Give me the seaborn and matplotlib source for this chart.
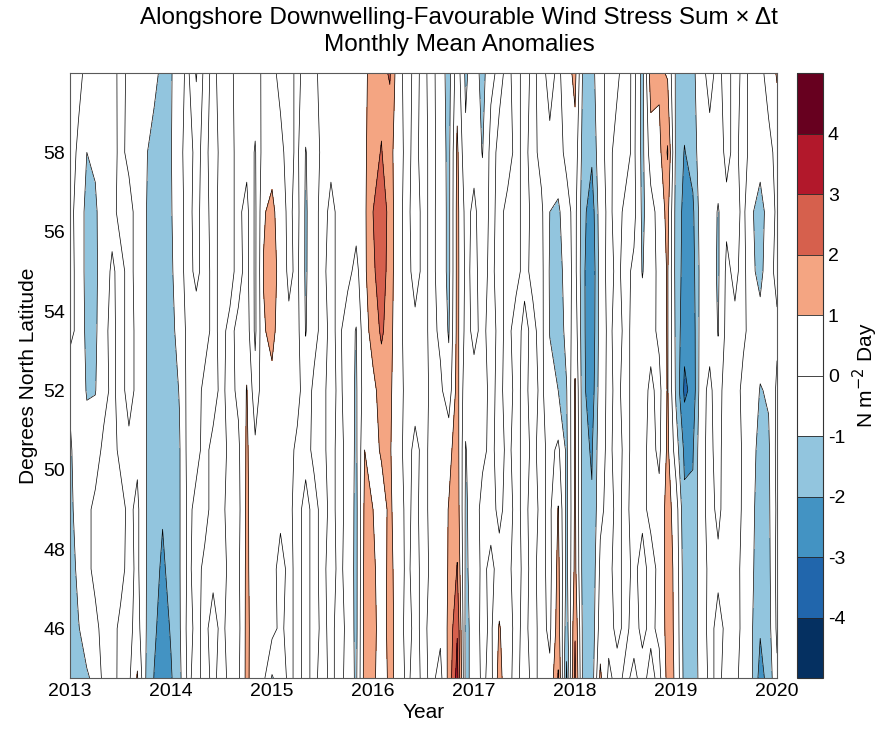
import numpy as np
import seaborn as sns
import matplotlib.pyplot as plt

# latitude rows (south -> north) and monthly anomalies, one row per month
lats = [44.75, 46, 47.5, 49, 50.5, 52, 53.5, 55, 56.5, 58, 60]

anom_2013 = [
    [-1.5, -1.5, -1.4, -1.3, -1.2, -0.8, 0.3, 0.4, 0.3, 0.5, 0.2],
    [-1.4, -1.05, -0.8, -0.5, -0.3, -0.2, -0.3, -0.4, -0.4, -0.2, 0.3],
    [-1.1, -0.6, -0.3, -0.2, -0.5, -1.1, -1.25, -1.3, -1.3, -1.0, -0.3],
    [-0.8, -0.3, 0.3, 0.2, -0.4, -1.05, -1.2, -1.25, -1.2, -0.8, -0.2],
    [0.3, 0.4, 0.5, 0.4, 0.2, -0.3, -0.2, -0.3, -0.3, -0.4, -0.3],
    [0.4, 0.3, 0.2, 0.2, 0.3, 0.2, 0.2, 0.1, -0.2, -0.3, -0.4],
    [-0.3, -0.2, 0.3, 0.3, -0.2, -0.3, -0.3, -0.2, 0.2, 0.2, 0.3],
    [-0.2, -0.3, -0.3, -0.2, -0.2, 0.3, 0.3, 0.2, 0.3, -0.2, -0.2],
    [1.1, 0.4, 0.2, 0.2, -0.2, -0.2, -0.2, -0.2, -0.3, -0.3, -0.2],
    [-1.0, -0.95, -0.95, -0.95, -0.95, -0.95, -0.95, -0.95, -0.95, -0.9, -0.4],
    [-2.05, -1.8, -1.6, -1.5, -1.5, -1.5, -1.5, -1.5, -1.5, -1.4, -0.7],
    [-2.7, -2.5, -2.2, -1.9, -1.7, -1.6, -1.6, -1.6, -1.6, -1.5, -1.3],
]
anom_2014 = [
    [-2.1, -1.9, -1.6, -1.5, -1.5, -1.5, -1.4, -1.2, -1.1, -1.05, -1.1],
    [-1.3, -1.15, -1.1, -1.1, -1.1, -0.95, -0.5, -0.3, -0.2, -0.2, -0.3],
    [0.2, 0.3, 0.2, 0.2, 0.3, 0.3, 0.2, 0.3, 0.2, 0.3, 0.2],
    [-0.3, -0.2, -0.3, -0.2, 0.2, 0.3, 0.4, -0.2, -0.2, -0.2, -1.1],
    [0.3, 0.2, 0.2, -0.3, -0.2, -0.2, 0.3, 0.3, 0.3, 0.2, 0.3],
    [-0.2, -0.3, 0.2, 0.3, 0.2, -0.3, -0.2, -0.2, -0.3, -0.3, -0.2],
    [0.3, 0.2, 0.3, 0.2, 0.3, 0.2, 0.2, 0.2, 0.3, 0.2, 0.3],
    [-0.2, -0.3, -0.2, -0.3, -0.2, -0.3, -0.2, 0.3, 0.2, 0.3, 0.2],
    [-0.2, -0.3, -0.2, -0.3, -0.2, 0.2, 0.2, -0.3, -0.2, -0.3, -0.3],
    [1.3, 1.3, 1.25, 1.2, 1.15, 1.05, 0.5, 0.3, 0.3, -0.3, -0.2],
    [0.2, 0.3, 0.2, 0.3, 0.2, -0.6, -1.2, -1.2, -1.2, -1.1, -0.4],
    [0.2, 0.3, 0.3, 0.3, 0.4, 0.6, 0.9, 1.05, 0.9, 0.5, 0.2],
]
anom_2015 = [
    [-1.1, 0.3, 0.3, 0.4, 0.5, 0.7, 1.3, 1.5, 1.3, 0.5, 0.2],
    [-0.5, -0.2, -0.3, 0.2, 0.3, 0.3, 0.5, 0.6, 0.4, 0.2, -0.2],
    [0.2, 0.3, 0.2, 0.2, 0.3, 0.2, 0.2, -0.2, -0.2, -0.3, -0.3],
    [-0.2, -0.3, -0.2, -0.3, -0.2, 0.3, 0.3, 0.2, 0.3, 0.2, 0.2],
    [0.2, 0.3, 0.2, 0.3, -0.3, -0.5, -1.05, -1.15, -1.15, -1.05, -0.3],
    [-0.2, -0.3, -0.2, -0.3, 0.2, 0.2, -0.3, -0.2, -0.3, -0.4, -0.2],
    [0.3, 0.2, 0.2, 0.3, 0.2, 0.2, 0.3, 0.2, 0.3, 0.2, 0.3],
    [-0.2, -0.2, -0.3, -0.2, -0.3, -0.3, -0.2, -0.3, -0.2, 0.2, 0.2],
    [0.3, 0.3, 0.2, 0.2, 0.3, 0.2, 0.2, 0.3, 0.2, 0.3, 0.2],
    [-0.3, -0.2, -0.3, -0.2, -0.3, -0.4, -0.6, 0.3, 0.4, 0.5, 0.6],
    [-1.2, -1.3, -1.3, -1.3, -1.2, -1.15, -1.05, -0.3, 0.4, 0.6, 0.7],
    [1.4, 1.4, 1.3, 1.2, 1.0, 0.6, 0.7, 0.8, 0.8, 0.8, 0.85],
]
anom_2016 = [
    [1.3, 1.4, 1.2, 1.0, 0.7, 0.8, 1.3, 1.8, 2.0, 1.7, 1.3],
    [0.3, 0.4, 0.5, 0.6, 1.1, 1.3, 2.2, 2.6, 2.7, 2.05, 1.7],
    [1.3, 1.4, 1.3, 1.2, 1.1, 1.2, 1.4, 1.5, 1.6, 1.4, 2.1],
    [0.6, 0.5, 0.5, 0.4, 0.3, 0.3, 0.2, 0.3, 0.2, 0.3, 0.3],
    [-0.2, -0.3, -0.2, -0.2, -0.3, -0.2, -0.2, -0.3, -0.2, -0.2, -0.3],
    [0.3, 0.2, 0.3, 0.2, 0.2, -0.3, -0.2, 0.3, 0.3, 0.2, 0.2],
    [-0.2, -0.2, -0.3, -0.3, -0.2, -0.3, -0.3, -0.2, -0.2, -0.3, -0.2],
    [0.2, 0.3, 0.2, 0.3, 0.2, 0.2, 0.3, 0.2, 0.2, 0.3, 0.3],
    [-0.3, 0.2, 0.3, 0.4, 0.3, 0.2, -0.2, -0.3, -0.3, -0.4, -0.5],
    [1.3, 1.2, 1.1, 1.05, 0.7, -0.6, -1.1, -1.3, -1.3, -1.3, -1.4],
    [3.4, 2.9, 2.05, 1.6, 1.5, 1.4, 1.3, 1.3, 1.3, 1.2, 0.6],
    [-1.3, -1.3, -1.2, -1.15, -1.05, -0.7, -0.3, -0.2, -0.3, -0.8, -1.2],
]
anom_2017 = [
    [-0.6, -0.6, -0.5, -0.5, -0.5, -0.3, 0.2, 0.2, 0.2, -0.3, -0.4],
    [0.2, 0.3, 0.2, 0.3, -0.2, -0.3, -0.2, -0.3, -0.5, -1.05, -1.4],
    [-0.3, -0.2, -0.2, 0.3, 0.2, 0.2, 0.3, 0.2, 0.2, 0.3, -0.2],
    [1.4, 1.1, 0.3, -0.2, -0.3, -0.2, -0.2, -0.3, -0.2, -0.2, 0.2],
    [0.2, 0.3, 0.2, 0.3, 0.2, 0.3, 0.2, 0.3, 0.2, -0.3, -0.2],
    [-0.2, -0.2, -0.3, -0.2, -0.3, -0.2, -0.3, 0.2, 0.3, 0.2, 0.3],
    [0.3, 0.2, 0.2, 0.2, 0.3, 0.2, 0.2, -0.2, -0.3, -0.2, -0.3],
    [-0.2, -0.3, -0.2, -0.3, -0.2, -0.3, -0.2, 0.2, 0.2, 0.3, 0.2],
    [0.2, 0.3, 0.3, 0.2, 0.3, 0.2, 0.3, 0.3, 0.2, -0.3, -0.3],
    [0.2, -0.2, -0.3, -0.2, -0.3, -0.6, -1.05, -1.1, -1.0, -0.2, 0.3],
    [2.1, 1.5, 1.3, 1.05, 0.2, -1.0, -1.6, -1.6, -1.2, -0.3, -0.2],
    [-2.2, -1.6, -1.3, -1.3, -1.2, -1.05, -0.7, -0.4, -0.3, 0.2, 0.5],
]
anom_2018 = [
    [2.3, 1.9, 1.3, 1.2, 1.2, 1.1, 0.6, 0.3, 0.3, 0.6, 1.3],
    [-1.5, -1.5, -1.6, -1.6, -1.7, -1.8, -1.8, -1.8, -1.7, -1.5, -1.3],
    [-1.6, -1.7, -1.8, -1.9, -2.1, -2.6, -2.8, -2.9, -2.6, -1.8, -1.4],
    [1.2, 0.5, 0.2, -0.2, -0.3, -0.4, -0.5, -0.5, -0.4, -0.3, -0.2],
    [-0.2, 0.3, 0.2, 0.3, 0.2, 0.2, 0.2, 0.3, 0.2, 0.3, 0.2],
    [0.3, -0.2, -0.3, -0.2, -0.3, -0.2, -0.3, -0.2, -0.3, -0.4, 0.2],
    [-0.2, 0.2, 0.3, 0.2, 0.2, 0.3, 0.2, 0.3, 0.2, -0.3, -0.5],
    [0.2, -0.3, -0.2, -0.3, -0.2, -0.3, -0.2, -0.2, 0.3, 0.2, 0.3],
    [-0.3, 0.2, 0.3, -0.2, -0.3, -0.4, -0.6, -1.05, -1.2, -1.3, -1.4],
    [0.3, -0.2, -0.3, 0.2, 0.3, 0.2, -0.3, -0.5, -0.4, 0.5, 1.5],
    [-0.3, 0.2, 0.2, 0.3, -0.2, -0.3, 0.2, 0.3, 0.4, 0.7, 1.2],
    [1.3, 1.4, 1.5, 1.4, 1.2, 1.1, 1.1, 1.1, 1.3, 2.1, 0.9],
]
anom_2019 = [
    [0.9, 0.8, 0.7, 0.5, -0.5, -1.2, -1.3, -1.4, -1.4, -1.3, -1.2],
    [-1.4, -1.5, -1.6, -1.8, -2.2, -3.2, -2.7, -2.4, -2.3, -2.05, -1.5],
    [-1.6, -1.6, -1.7, -1.8, -2.1, -2.7, -2.6, -2.4, -2.2, -1.6, -1.3],
    [-0.6, -0.5, -0.4, -0.3, -0.2, -0.3, -0.4, -0.5, -0.4, -0.3, -0.2],
    [0.2, 0.3, 0.2, 0.3, 0.2, 0.2, -0.3, -0.4, -0.3, -0.2, 0.2],
    [-0.2, -0.3, 0.2, -0.2, -0.3, -0.5, -1.05, -1.15, -1.1, -0.4, -0.2],
    [0.3, 0.2, 0.3, 0.4, 0.5, 0.6, 0.3, 0.2, -0.2, 0.2, 0.3],
    [0.2, 0.3, 0.4, 0.6, 0.7, 0.5, 0.2, -0.2, -0.3, -0.2, -0.3],
    [-0.3, -0.2, -0.3, -0.2, -0.2, -0.3, 0.2, 0.3, 0.2, 0.3, 0.2],
    [-0.9, -0.9, -0.85, -0.8, -0.7, -0.5, -0.4, -0.8, -0.9, -0.3, -0.2],
    [-2.4, -1.9, -1.5, -1.4, -1.3, -1.05, -0.6, -1.3, -1.4, -0.6, -0.3],
    [-1.6, -1.4, -1.3, -1.2, -1.15, -0.9, -0.5, -0.4, -0.6, -0.3, 0.4],
]
anom_2020 = [
    [-0.2, 0.2, 0.3, 0.2, 0.3, 0.2, -0.2, 0.3, 0.2, 0.3, 1.1],
]

levels = [-5, -4, -3, -2, -1, 0, 1, 2, 3, 4, 5]
year_ticks = [2013, 2014, 2015, 2016, 2017, 2018, 2019, 2020]
lat_ticks = [46, 48, 50, 52, 54, 56, 58]

#%% assemble grid
anom = np.vstack([anom_2013, anom_2014, anom_2015, anom_2016,
                  anom_2017, anom_2018, anom_2019, anom_2020])
time = 2013 + np.arange(anom.shape[0]) / 12.0
X, Y = np.meshgrid(time, lats)
Z = anom.T

#%% style
sns.set_style("ticks")
plt.rcParams['font.family'] = ['Liberation Sans', 'DejaVu Sans']
plt.rcParams['axes.unicode_minus'] = False
plt.rcParams['text.color'] = 'black'
plt.rcParams['axes.labelcolor'] = 'black'
plt.rcParams['xtick.color'] = 'black'
plt.rcParams['ytick.color'] = 'black'

pal = sns.color_palette(['#053061', '#2166ac', '#4393c3', '#92c5de', '#ffffff',
                         '#ffffff', '#f4a582', '#d6604d', '#b2182b', '#67001f'])

fig = plt.figure(figsize=(8.85, 7.33), dpi=100)
ax = fig.add_axes([0.0791, 0.075, 0.7989, 0.8254])
cax = fig.add_axes([0.9006, 0.075, 0.0294, 0.8254])

cf = ax.contourf(X, Y, Z, levels=levels, colors=pal)
ax.contour(X, Y, Z, levels=levels, colors='k', linewidths=0.5,
           linestyles='solid')

ax.set_xlim(2013, 2020)
ax.set_ylim(lats[0], lats[-1])
ax.set_xticks(year_ticks)
ax.set_yticks(lat_ticks)
ax.tick_params(direction='in', top=True, right=True, length=5, labelsize=14,
               width=0.6)
for s in ax.spines.values():
    s.set_linewidth(0.8)
    s.set_color('0.35')
ax.set_xlabel('Year', fontsize=15, labelpad=2)
ax.set_ylabel('Degrees North Latitude', fontsize=15, labelpad=4)

cb = fig.colorbar(cf, cax=cax, ticks=levels[1:-1], drawedges=True)
cb.outline.set_linewidth(0.8)
cb.outline.set_edgecolor('0.2')
cb.dividers.set_linewidth(0.6)
cb.ax.tick_params(labelsize=14, length=0)
cb.set_label('N m$^{-2}$ Day', fontsize=15, labelpad=4)

fig.text(0.519, 0.99, 'Alongshore Downwelling-Favourable Wind Stress Sum \u00d7 \u0394t\n'
         'Monthly Mean Anomalies', ha='center', va='top', fontsize=17.5,
         linespacing=1.3)

plt.savefig('out.png', dpi=100)
